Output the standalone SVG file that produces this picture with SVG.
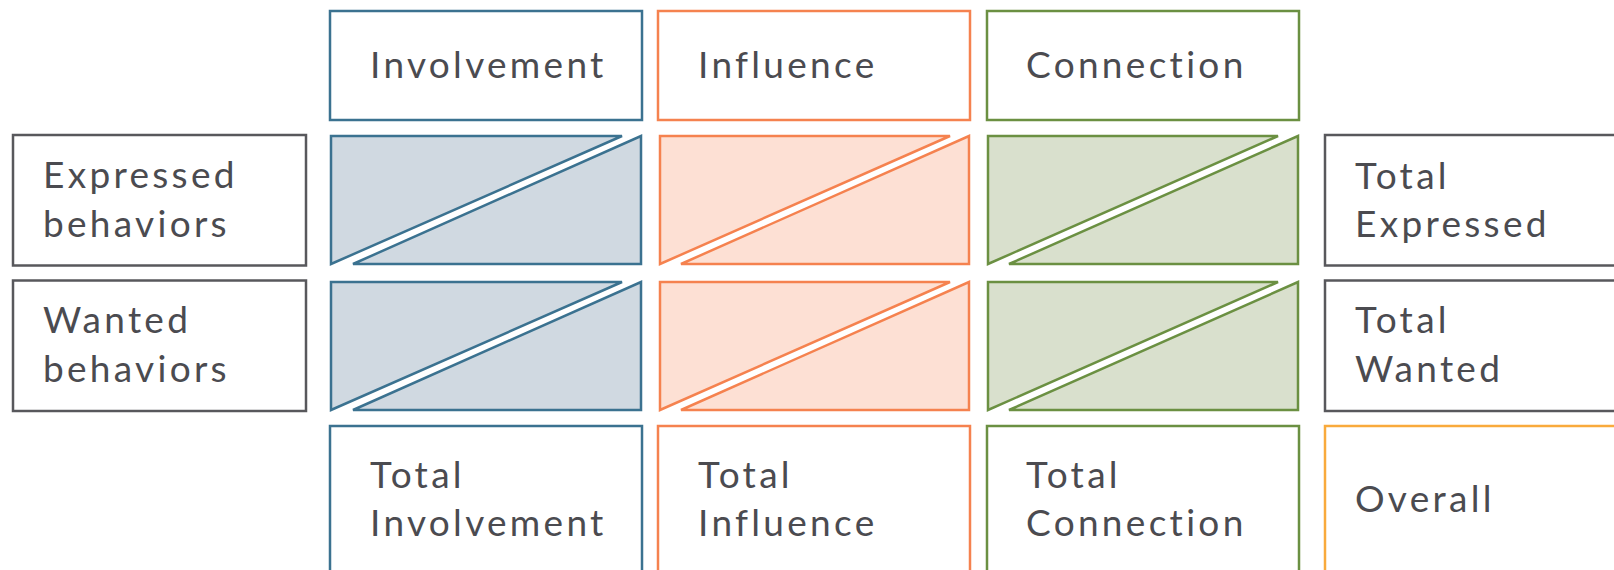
<svg xmlns="http://www.w3.org/2000/svg" width="1614" height="570" viewBox="0 0 1614 570">
<style>
.t{font-family:Lato,"Open Sans","Liberation Sans",sans-serif;font-size:37px;fill:#4b4b50;letter-spacing:3.3px}
.box{fill:#fff;stroke-width:2.5}
.gray{stroke:#58585c}
.blue{stroke:#3b7290}
.orange{stroke:#f5824f}
.green{stroke:#6b9042}
.gold{stroke:#f9aa3c}
.cb{fill:#d0d9e1;stroke:#3b7290;stroke-width:2.5;stroke-linejoin:miter}
.co{fill:#fde0d4;stroke:#f5824f;stroke-width:2.5}
.cg{fill:#d9e0cd;stroke:#6b9042;stroke-width:2.5}
</style>
<rect width="1614" height="570" fill="#fff"/>
<g id="involvement"><rect class="box blue" x="330" y="11" width="312" height="109"/><text class="t" x="370" y="78">Involvement</text></g>
<g id="influence"><rect class="box orange" x="658" y="11" width="312" height="109"/><text class="t" x="698" y="78">Influence</text></g>
<g id="connection"><rect class="box green" x="987" y="11" width="312" height="109"/><text class="t" x="1026" y="78">Connection</text></g>
<g id="expressed"><rect class="box gray" x="13" y="135" width="293" height="130.5"/><text class="t" x="43" y="188">Expressed</text><text class="t" x="43" y="237">behaviors</text></g>
<g id="wanted"><rect class="box gray" x="13" y="280.5" width="293" height="130.5"/><text class="t" x="43" y="333">Wanted</text><text class="t" x="43" y="382">behaviors</text></g>
<g id="cell-inv-exp"><polygon class="cb" points="331,136 622,136 331,264"/><polygon class="cb" points="641,136 641,264 353,264"/></g>
<g id="cell-inf-exp"><polygon class="co" points="660,136 950,136 660,264"/><polygon class="co" points="969,136 969,264 681,264"/></g>
<g id="cell-con-exp"><polygon class="cg" points="988,136 1278,136 988,264"/><polygon class="cg" points="1298,136 1298,264 1009,264"/></g>
<g id="cell-inv-wan"><polygon class="cb" points="331,282 622,282 331,410"/><polygon class="cb" points="641,282 641,410 353,410"/></g>
<g id="cell-inf-wan"><polygon class="co" points="660,282 950,282 660,410"/><polygon class="co" points="969,282 969,410 681,410"/></g>
<g id="cell-con-wan"><polygon class="cg" points="988,282 1278,282 988,410"/><polygon class="cg" points="1298,282 1298,410 1009,410"/></g>
<g id="total-expressed"><rect class="box gray" x="1325" y="135" width="320" height="130.5"/><text class="t" x="1355" y="189">Total</text><text class="t" x="1355" y="237">Expressed</text></g>
<g id="total-wanted"><rect class="box gray" x="1325" y="280.5" width="320" height="130.5"/><text class="t" x="1355" y="333">Total</text><text class="t" x="1355" y="382">Wanted</text></g>
<g id="total-involvement"><rect class="box blue" x="330" y="426" width="312" height="170"/><text class="t" x="370" y="488">Total</text><text class="t" x="370" y="536">Involvement</text></g>
<g id="total-influence"><rect class="box orange" x="658" y="426" width="312" height="170"/><text class="t" x="698" y="488">Total</text><text class="t" x="698" y="536">Influence</text></g>
<g id="total-connection"><rect class="box green" x="987" y="426" width="312" height="170"/><text class="t" x="1026" y="488">Total</text><text class="t" x="1026" y="536">Connection</text></g>
<g id="overall"><rect class="box gold" x="1325" y="426" width="320" height="170"/><text class="t" x="1355" y="512">Overall</text></g>
<g id="connectors"></g>
</svg>
